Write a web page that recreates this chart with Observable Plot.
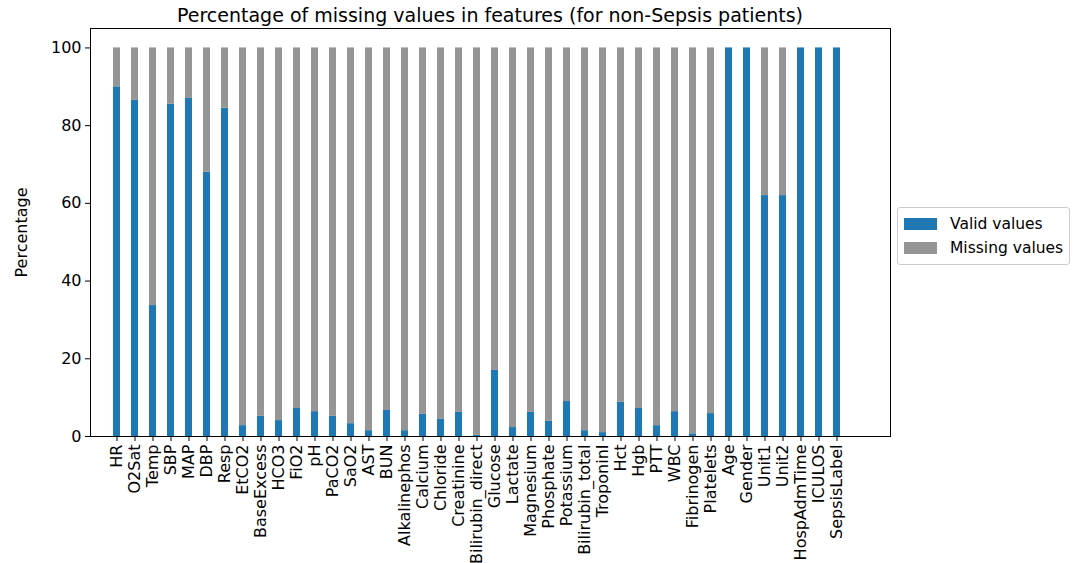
<!DOCTYPE html><html><head><meta charset="utf-8">
<script src="https://cdn.jsdelivr.net/npm/d3@7"></script>
<script src="https://cdn.jsdelivr.net/npm/@observablehq/plot@0.6"></script>
<style>body{margin:0;background:#fff;font-family:"DejaVu Sans",sans-serif}#c{position:relative;width:1079px;height:563px}
#t{position:absolute;top:4px;left:90px;width:800px;text-align:center;font-size:19px}
#lg{position:absolute;left:897px;top:207px;border:1px solid #ccc;border-radius:3px;padding:4px 6px;font-size:15.5px;background:#fff}
#lg div{display:flex;align-items:center;height:24px}#lg span{display:inline-block;width:33px;height:12px;margin-right:13px}</style></head><body>
<div id="c"><div id="t">Percentage of missing values in features (for non-Sepsis patients)</div>
<div id="lg"><div><span style="background:#1f77b4"></span>Valid values</div><div><span style="background:#959595"></span>Missing values</div></div></div>
<script>
const features=["HR","O2Sat","Temp","SBP","MAP","DBP","Resp","EtCO2","BaseExcess","HCO3","FiO2","pH","PaCO2","SaO2","AST","BUN","Alkalinephos","Calcium","Chloride","Creatinine","Bilirubin_direct","Glucose","Lactate","Magnesium","Phosphate","Potassium","Bilirubin_total","TroponinI","Hct","Hgb","PTT","WBC","Fibrinogen","Platelets","Age","Gender","Unit1","Unit2","HospAdmTime","ICULOS","SepsisLabel"];
const valid=[90,86.5,33.7,85.5,87,68,84.5,2.8,5.2,4.1,7.2,6.4,5.2,3.3,1.5,6.7,1.5,5.7,4.4,6.2,0.3,17,2.3,6.2,3.9,9.0,1.5,1.0,8.8,7.2,2.8,6.4,0.7,5.9,100,100,62,62,100,100,100];
const yTicks=[0,20,40,60,80,100];
const data=[];
features.forEach((f,i)=>{data.push({f,type:"Valid values",v:valid[i]});data.push({f,type:"Missing values",v:100-valid[i]});});
const p=Plot.plot({width:1079,height:563,marginLeft:90,marginRight:189,marginTop:28,marginBottom:127,
style:{fontSize:"16px",fontFamily:"DejaVu Sans"},
x:{domain:features,range:[94.7,857.3],padding:0.62,label:null,tickRotate:-90,tickSize:5},
y:{domain:[0,105],ticks:yTicks,label:"Percentage",labelAnchor:"center",labelArrow:"none",tickSize:5},
color:{domain:["Valid values","Missing values"],range:["#1f77b4","#959595"]},
marks:[Plot.barY(data,{x:"f",y:"v",fill:"type",order:["Valid values","Missing values"]}),
Plot.frame({stroke:"#000"}),
Plot.axisX({tickRotate:-90,tickSize:5,label:null,fontSize:16,textAnchor:"end",tickPadding:3}),
Plot.axisY({ticks:yTicks,tickSize:5,label:"Percentage",labelAnchor:"center",labelArrow:"none",labelOffset:75,fontSize:16})]});
document.getElementById("c").prepend(p);p.style.position="absolute";p.style.top="0";p.style.left="0";
</script></body></html>
